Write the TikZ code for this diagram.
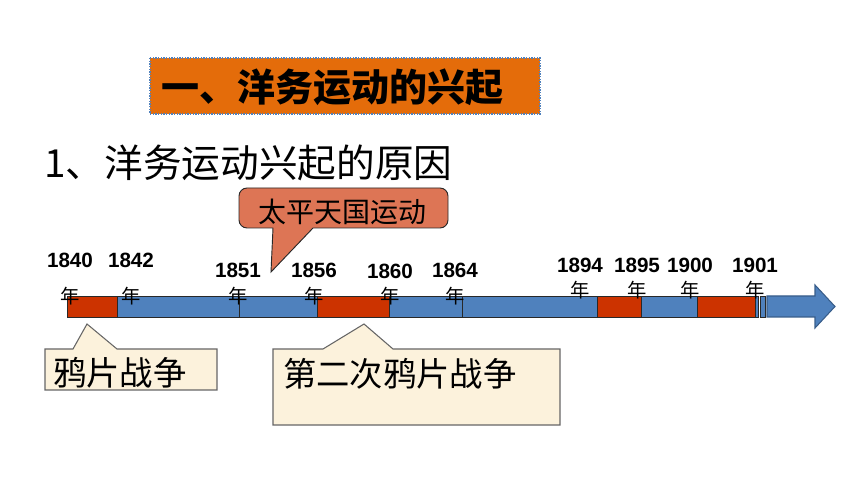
\documentclass[tikz,border=0pt]{standalone}
\usepackage{fontspec}
\usepackage{pdfrender}
\newfontfamily\cjk{Noto Sans CJK SC}
\newfontfamily\lat{Liberation Sans}
\definecolor{titleorange}{RGB}{228,108,10}
\definecolor{titleedge}{RGB}{120,20,20}
\definecolor{dotblue}{RGB}{79,129,189}
\definecolor{barblue}{RGB}{79,129,189}
\definecolor{bluedark}{RGB}{56,93,138}
\definecolor{barred}{RGB}{204,51,0}
\definecolor{bardark}{RGB}{40,40,40}
\definecolor{tagfill}{RGB}{221,117,85}
\definecolor{creamfill}{RGB}{252,242,220}
\tikzset{
  px/.style={x=0.75pt,y=-0.75pt},
  seg/.style={draw=bardark,line width=0.7pt},
  yearnum/.style={font=\lat\bfseries\fontsize{15.5}{16}\selectfont,inner sep=0},
  yearzi/.style={font=\cjk\fontsize{14.5}{15}\selectfont,inner sep=0},
  tagbox/.style={draw=bardark,fill=tagfill,line width=0.7pt},
  callout/.style={draw=black!60,fill=creamfill,line width=0.8pt}
}
\begin{document}
\begin{tikzpicture}[px]
\useasboundingbox (0,0) rectangle (860,484);
% title
\draw [fill=titleorange, draw=dotblue, densely dotted, line width=1pt] (150,58) rectangle (540,114);
\node (title) at (332,87) [inner sep=0, font=\cjk\bfseries\fontsize{28.5}{30}\selectfont] {\textpdfrender{TextRenderingMode=FillStroke, LineWidth=0.7pt, StrokeColor=titleedge, FillColor=white}{一、洋务运动的兴起}};
\node (reason) at (44,163) [anchor=west, inner sep=0, font=\cjk\fontsize{29}{30}\selectfont] {1、洋务运动兴起的原因};
% callout above
\draw [tagbox] (273,228) -- (271,272) -- (313,228) [rounded corners=6] -- (448,228) -- (448,188) -- (239,188) -- (239,228) [sharp corners] -- cycle;
\node (tpty) at (342,212) [inner sep=0, font=\cjk\fontsize{21}{22}\selectfont] {太平天国运动};
% time bar
\foreach \a/\b/\c in {67/117/barred, 117/239/barblue, 239/317/barblue, 317/389/barred, 389/462/barblue, 462/597/barblue, 597/641/barred, 641/697/barblue, 697/755/barred, 755/758/barblue, 760/765/barblue}
  \draw [seg, fill=\c] (\a,296) rectangle (\b,317);
\draw [fill=barblue, draw=bluedark, line width=0.8pt] (767,296) -- (815,296) -- (815,285) -- (835,306.5) -- (815,328) -- (815,317) -- (767,317) -- cycle;
\foreach \yr/\x/\yn/\yz in {1840/70/260/296, 1842/131/260/296, 1851/238/270/296, 1856/314/270/296, 1860/390/271/296, 1864/455/270/296, 1894/580/265/290, 1895/637/265/290, 1900/690/265/290, 1901/755/265/290}{
  \node [yearnum] (n\yr) at (\x,\yn) {\yr};
  \node [yearzi] (z\yr) at (\x,\yz) {年};
}
% callouts below
\draw [callout] (45,349) -- (73,349) -- (87,324) -- (117,349) -- (217,349) -- (217,390) -- (45,390) -- cycle;
\node (opium) at (53,373) [anchor=west, inner sep=0, font=\cjk\fontsize{25}{26}\selectfont] {鸦片战争};
\draw [callout] (273,349) -- (323,349) -- (364,324) -- (393,349) -- (560,349) -- (560,425) -- (273,425) -- cycle;
\node (opium2) at (283,374) [anchor=west, inner sep=0, font=\cjk\fontsize{25}{26}\selectfont] {第二次鸦片战争};
\end{tikzpicture}
\end{document}
